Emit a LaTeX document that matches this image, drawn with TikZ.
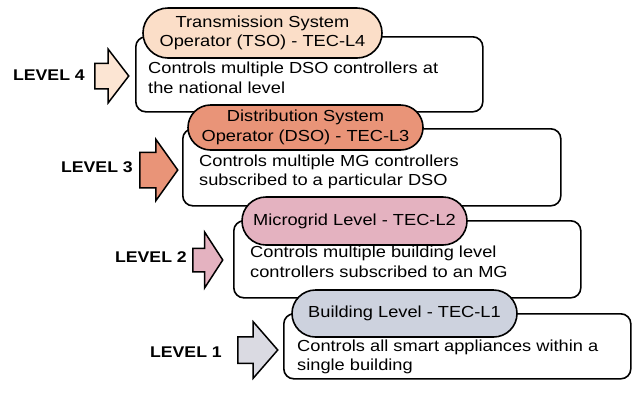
\documentclass[tikz,border=0pt]{standalone}
\usepackage{fontspec}
\setmainfont{Liberation Sans}[FakeStretch=1.14]
\usetikzlibrary{shapes.misc,shapes.arrows}
\definecolor{tsoPeach}{RGB}{251,222,200}
\definecolor{dsoSalmon}{RGB}{233,148,120}
\definecolor{mgPink}{RGB}{228,178,192}
\definecolor{bldGray}{RGB}{205,210,222}
\definecolor{arrowGray}{RGB}{218,218,226}

\begin{document}
\begin{tikzpicture}[x=1pt,y=-1pt,
  every node/.style={font=\fontsize{16}{19.5}\selectfont},
  box/.style={draw,fill=white,line width=1.6pt,rounded corners=10pt,anchor=north west,inner sep=0pt},
  pill/.style={rounded rectangle,draw,line width=1.6pt,align=center,inner sep=0pt},
  desc/.style={anchor=west,align=left,inner sep=0pt},
  lvl/.style={anchor=east,inner sep=0pt,font=\fontsize{15.5}{18}\selectfont\bfseries},
  lvlarrow/.style={single arrow,draw=black,line width=1.5pt,inner xsep=0pt,anchor=tail}]
\useasboundingbox (0,0) rectangle (636,392);
% Level 4
\node[box,minimum width=347pt,minimum height=75pt] (b4) at (135,36) {};
\node[pill,fill=tsoPeach,minimum width=239pt,minimum height=50pt] (p4) at (262.5,33) {Transmission System\\Operator (TSO) - TEC-L4};
\node[desc] (t4) at (148,78) {Controls multiple DSO controllers at\\the national level};
\node[lvlarrow,fill=tsoPeach!80,minimum height=34pt,inner ysep=12pt,single arrow head extend=14pt,single arrow tip angle=105] (a4) at (94,76) {};
\node[lvl] (l4) at (85,75) {LEVEL 4};
% Level 3
\node[box,minimum width=378pt,minimum height=77pt] (b3) at (182,128) {};
\node[pill,fill=dsoSalmon,minimum width=235pt,minimum height=45pt] (p3) at (305.5,127.5) {Distribution System\\Operator (DSO) - TEC-L3};
\node[desc] (t3) at (199,172) {Controls multiple MG controllers\\subscribed to a particular DSO};
\node[lvlarrow,fill=dsoSalmon,minimum height=38pt,inner ysep=17pt,single arrow head extend=13pt,single arrow tip angle=109] (a3) at (139,170) {};
\node[lvl] (l3) at (133,167) {LEVEL 3};
% Level 2
\node[box,minimum width=347pt,minimum height=77pt] (b2) at (233,220) {};
\node[pill,fill=mgPink,minimum width=225pt,minimum height=48pt] (p2) at (354.5,221) {Microgrid Level - TEC-L2};
\node[desc] (t2) at (250,262) {Controls multiple building level\\controllers subscribed to an MG};
\node[lvlarrow,fill=mgPink,minimum height=30pt,inner ysep=11pt,single arrow head extend=16pt,single arrow tip angle=114] (a2) at (192,260) {};
\node[lvl] (l2) at (187,257) {LEVEL 2};
% Level 1
\node[box,minimum width=347pt,minimum height=65pt] (b1) at (283,313) {};
\node[pill,fill=bldGray,minimum width=225pt,minimum height=47pt] (p1) at (404.5,313.5) {Building Level - TEC-L1};
\node[desc] (t1) at (297,357) {Controls all smart appliances within a\\single building};
\node[lvlarrow,fill=arrowGray,minimum height=40pt,inner ysep=12.5pt,single arrow head extend=15pt,single arrow tip angle=98] (a1) at (237,350) {};
\node[lvl] (l1) at (222,352) {LEVEL 1};
\end{tikzpicture}
\end{document}
